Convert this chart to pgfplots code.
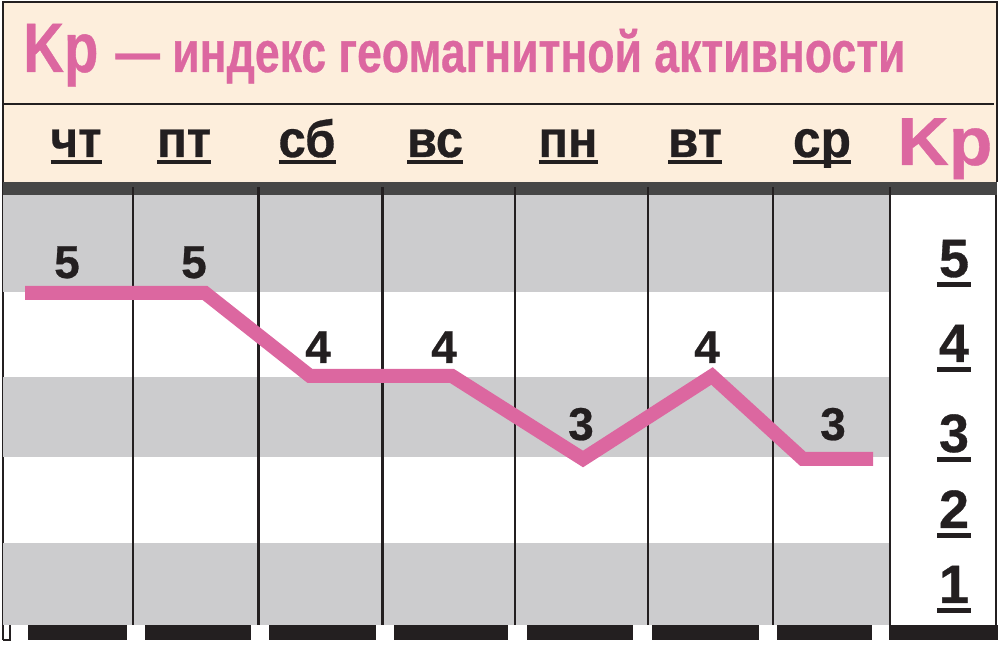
\documentclass[border=0pt]{standalone}
\usepackage{fontspec}
\setmainfont{Liberation Sans}[BoldFeatures={FakeBold=0.6}]
\usepackage{graphicx}
\usepackage{pgfplots}
\pgfplotsset{compat=1.18}

\definecolor{kppink}{HTML}{DC67A0}
\definecolor{peach}{HTML}{FDEEDC}
\definecolor{band}{HTML}{CCCCCE}
\definecolor{bar}{HTML}{464646}
\definecolor{ink}{HTML}{231F20}

% text squeezed to a given width, height kept
\newcommand\fitw[2]{\resizebox{#1}{\height}{#2}}
% day label with underline
\newcommand\dayl[2]{\setbox0\hbox{\fitw{#1}{#2}}\rlap{\rule[-3.5pt]{\wd0}{2pt}}\box0}
% scale number with underline
\newcommand\scl[1]{\setbox0\hbox{#1}\makebox[\wd0]{\makebox[0pt]{\rule[-5pt]{17pt}{2.5pt}}}\hspace{-\wd0}\box0}

\begin{document}
\begin{tikzpicture}
\path[use as bounding box] (0,0) rectangle (500pt,331.5pt);

% background drawn in pixel units (origin top left)
\begin{scope}[shift={(0,331.5pt)}, x=0.5pt, y=-0.5pt]
  % header
  \fill[peach] (3,2) rectangle (997,182);
  \draw[ink, line width=0.6pt] (3,640) -- (3,2) -- (997,2) -- (997,182);
  \draw[ink, line width=0.8pt] (3,104) -- (994,104);
  % bands
  \fill[band] (3,195) rectangle (890,292);
  \fill[band] (3,377) rectangle (890,457);
  \fill[band] (3,543) rectangle (890,625);
  \fill[white] (890,195) rectangle (997,625);
  \draw[ink, line width=0.6pt] (996,195) -- (996,625);
  % dark bar
  \fill[bar] (3,182) rectangle (997,195);
  % column lines
  \foreach \x in {133,515,648,773,890}
    \draw[ink, line width=1.2pt] (\x,187) -- (\x,625);
  \foreach \x in {258,382}
    \draw[ink, line width=1.5pt] (\x,187) -- (\x,625);
  % bottom dashes
  \foreach \a/\b in {28/127,145/251,269/376,394/508,527/633,652/759,777/872,889/998}
    \fill[ink] (\a,625) rectangle (\b,640);
  \draw[ink, line width=0.6pt] (3,640) -- (10,640) -- (10,625);

  % title
  \node[anchor=base west, inner sep=0, text=kppink] at (23,72)
    {\fontsize{35}{35}\selectfont\bfseries\fitw{37.5pt}{Kp}};
  \node[anchor=base west, inner sep=0, text=kppink] at (115,72)
    {\fontsize{29}{29}\selectfont\bfseries\fitw{395pt}{— индекс геомагнитной активности}};

  % day names
  \foreach \x/\w/\d in {76/25.5pt/чт, 184/27pt/пт, 307/28.5pt/сб, 435/28pt/вс,
                        568/29.5pt/пн, 695/27pt/вт, 822/29pt/ср}
    \node[anchor=base, inner sep=0, text=ink] at (\x,157)
      {\fontsize{26}{26}\selectfont\bfseries\dayl{\w}{\d}};

  % right scale
  \node[anchor=base west, inner sep=0, text=kppink] at (897,165)
    {\fontsize{34}{34}\selectfont\bfseries\fitw{47.5pt}{Kp}};
  \foreach \y/\n in {277/5, 362/4, 452/3, 528/2, 603/1}
    \node[anchor=base, inner sep=0, text=ink] at (954,\y)
      {\fontsize{27}{27}\selectfont\bfseries\scl{\n}};
\end{scope}

\begin{axis}[
    at={(0,0)}, anchor=south west,
    scale only axis,
    width=500pt, height=331.5pt,
    xmin=0, xmax=1000,
    ymin=0.5422, ymax=8.5301,
    hide axis,
    clip=false,
]
    % Kp line
    \addplot[color=kppink, line width=7pt, line join=miter, line cap=butt, mark=none]
        coordinates {(25,5) (205,5) (310,4) (452,4) (583,3) (712,4) (803,3) (873,3)};

    % daily values
    \addplot[draw=none, mark=none,
        nodes near coords, point meta=explicit symbolic,
        nodes near coords style={anchor=base, inner sep=0, text=ink,
            font=\fontsize{23}{23}\selectfont\bfseries}]
        coordinates {(67,5.181)[5] (194,5.181)[5] (318,4.157)[4] (444,4.157)[4]
                     (581,3.229)[3] (707,4.157)[4] (833,3.229)[3]};
\end{axis}
\end{tikzpicture}
\end{document}
